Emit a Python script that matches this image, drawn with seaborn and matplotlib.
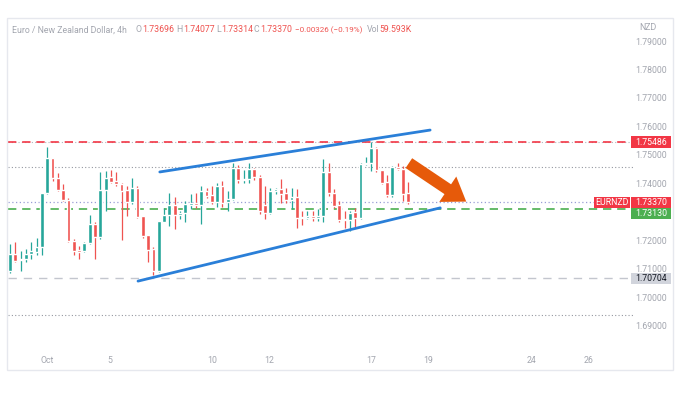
import matplotlib.pyplot as plt
import matplotlib.patches as mpatches
import numpy as np
import pandas as pd
import seaborn as sns

# EURNZD 4h candles
opens = [1.7098, 1.7157, 1.7134, 1.7139, 1.7157, 1.7162, 1.7182, 1.7371, 1.7493, 1.7424,
         1.7380, 1.7344, 1.7200, 1.7171, 1.7166, 1.7195, 1.7261, 1.7217, 1.7379, 1.7426,
         1.7412, 1.7402, 1.7379, 1.7340, 1.7388, 1.7290, 1.7222, 1.7174, 1.7098, 1.7270,
         1.7293, 1.7327, 1.7294, 1.7299, 1.7329, 1.7336, 1.7328, 1.7377, 1.7362, 1.7340,
         1.7394, 1.7339, 1.7348, 1.7458, 1.7415, 1.7420, 1.7455, 1.7427, 1.7327, 1.7299,
         1.7377, 1.7383, 1.7369, 1.7344, 1.7357, 1.7287, 1.7283, 1.7290, 1.7283, 1.7288,
         1.7443, 1.7369, 1.7327, 1.7278, 1.7276, 1.7304, 1.7281, 1.7472, 1.7475, 1.7528,
         1.7452, 1.7408, 1.7362, 1.7462, 1.7456, 1.73696]
highs = [1.7191, 1.7199, 1.7168, 1.7174, 1.7197, 1.7211, 1.7371, 1.7530, 1.7493, 1.7441,
         1.7400, 1.7354, 1.7209, 1.7185, 1.7199, 1.7292, 1.7267, 1.7444, 1.7446, 1.7452,
         1.7443, 1.7406, 1.7394, 1.7423, 1.7394, 1.7290, 1.7222, 1.7180, 1.7272, 1.7319,
         1.7369, 1.7357, 1.7307, 1.7342, 1.7365, 1.7371, 1.7394, 1.7388, 1.7394, 1.7406,
         1.7412, 1.7377, 1.7475, 1.7470, 1.7452, 1.7475, 1.7458, 1.7435, 1.7394, 1.7388,
         1.7388, 1.7420, 1.7388, 1.7386, 1.7383, 1.7307, 1.7307, 1.7307, 1.7313, 1.7489,
         1.7475, 1.7383, 1.7342, 1.7307, 1.7307, 1.7319, 1.7475, 1.7496, 1.7549, 1.7533,
         1.7452, 1.7435, 1.7464, 1.7475, 1.7464, 1.74077]
lows = [1.7090, 1.7127, 1.7098, 1.7127, 1.7139, 1.7151, 1.7151, 1.7365, 1.7412, 1.7377,
        1.7342, 1.7197, 1.7151, 1.7137, 1.7162, 1.7191, 1.7139, 1.7209, 1.7307, 1.7406,
        1.7394, 1.7206, 1.7290, 1.7330, 1.7284, 1.7214, 1.7127, 1.7081, 1.7092, 1.7267,
        1.7255, 1.7243, 1.7278, 1.7267, 1.7313, 1.7319, 1.7261, 1.7354, 1.7330, 1.7322,
        1.7322, 1.7307, 1.7345, 1.7406, 1.7406, 1.7404, 1.7417, 1.7296, 1.7278, 1.7296,
        1.7365, 1.7336, 1.7336, 1.7313, 1.7249, 1.7257, 1.7278, 1.7272, 1.7272, 1.7267,
        1.7359, 1.7319, 1.7267, 1.7249, 1.7238, 1.7249, 1.7278, 1.7470, 1.7446, 1.7443,
        1.7400, 1.7357, 1.7357, 1.7452, 1.7342, 1.73314]
closes = [1.7157, 1.7133, 1.7140, 1.7157, 1.7166, 1.7182, 1.7371, 1.7493, 1.7423, 1.7379,
          1.7344, 1.7200, 1.7168, 1.7164, 1.7195, 1.7261, 1.7217, 1.7379, 1.7424, 1.7408,
          1.7402, 1.7377, 1.7340, 1.7388, 1.7287, 1.7220, 1.7171, 1.7098, 1.7272, 1.7293,
          1.7327, 1.7293, 1.7301, 1.7330, 1.7336, 1.7329, 1.7377, 1.7359, 1.7340, 1.7394,
          1.7336, 1.7350, 1.7458, 1.7415, 1.7421, 1.7455, 1.7426, 1.7307, 1.7301, 1.7377,
          1.7383, 1.7368, 1.7346, 1.7357, 1.7284, 1.7283, 1.7290, 1.7283, 1.7290, 1.7443,
          1.7369, 1.7325, 1.7276, 1.7275, 1.7301, 1.7281, 1.7472, 1.7475, 1.7528, 1.7452,
          1.7406, 1.7362, 1.7462, 1.7456, 1.7365, 1.73370]

# x-axis day labels (bar position of each label)
day_labels = ['Oct', '5', '10', '12', '17', '19', '24', '26']
day_pos = [7.0, 18.8, 38.0, 48.8, 68.0, 78.8, 98.1, 108.9]

price_ticks = [1.69, 1.70, 1.71, 1.72, 1.73, 1.74, 1.75, 1.76, 1.77, 1.78, 1.79]

# drawn levels
resistance = 1.75486
support = 1.73130
last_price = 1.73370
low_level = 1.70704
dotted_levels = [1.7461, 1.6943]

# rising wedge lines: (bar, price) endpoints
upper_x, upper_y = [28.2, 79.1], [1.7444, 1.7591]
lower_x, lower_y = [24.1, 81.0], [1.7061, 1.7318]

# arrow (bar, price)
arrow_from = (75.1, 1.7475)
arrow_to = (85.9, 1.7340)

UP, DOWN = '#26a69a', '#ef5350'
GRID_TXT = '#a3a6af'

sns.set_style('white')
plt.rcParams['font.family'] = ['Roboto', 'DejaVu Sans']

W, H = 681, 394
fig = plt.figure(figsize=(W / 100, H / 100), dpi=100)
ax = fig.add_axes([8 / W, (H - 345) / H, 625 / W, 325 / H])

o, h, l, c = map(np.array, (opens, highs, lows, closes))
idx = np.arange(len(o))
colors = np.where(c >= o, UP, DOWN)

# reference levels
ax.axhline(dotted_levels[0], color='#9598a1', lw=0.8, ls=(0, (1, 2)), zorder=1)
ax.axhline(dotted_levels[1], color='#9598a1', lw=0.8, ls=(0, (1, 2)), zorder=1)
ax.axhline(last_price, color='#9a9ed6', lw=0.9, ls=(0, (1, 2)), zorder=1)
ax.axhline(resistance, color='#b2b5be', lw=0.8, ls=(0, (1, 2)), zorder=1)
ax.axhline(resistance, color='#f23645', lw=1.2, ls=(0, (5, 3.5)), zorder=2)
ax.axhline(support, color='#4caf50', lw=1.2, ls=(0, (5, 3.5)), zorder=2)
ax.axhline(low_level, color='#c3c6ce', lw=1.0, ls=(0, (6, 5)), zorder=1)

# candles
ax.vlines(idx, l, h, colors=colors, lw=0.9, zorder=3)
body = np.maximum(np.abs(c - o), 0.00025)
ax.bar(idx, body, bottom=np.minimum(o, c), width=0.72, color=colors, zorder=4)

# wedge
wedge = pd.DataFrame({
    'bar': upper_x + lower_x,
    'price': upper_y + lower_y,
    'line': ['upper', 'upper', 'lower', 'lower'],
})
sns.lineplot(data=wedge, x='bar', y='price', units='line', estimator=None,
             color='#2a7fd8', lw=2.0, ax=ax, zorder=5)

ax.annotate('', xy=arrow_to, xytext=arrow_from,
            arrowprops=dict(facecolor='#e65a0a', edgecolor='none', width=8.5,
                            headwidth=22, headlength=16, shrink=0),
            zorder=6)

ax.set_xlim(-0.38, 117.3)
ax.set_ylim(1.68368, 1.79772)
ax.set_xticks(day_pos)
ax.set_xticklabels(day_labels)
ax.tick_params(axis='x', length=0, pad=8, labelsize=6.3, labelcolor=GRID_TXT)
ax.set_yticks([])
ax.set_xlabel('')
ax.set_ylabel('')
for s in ax.spines.values():
    s.set_visible(False)

# right price scale
yt = ax.get_yaxis_transform()
for p in price_ticks:
    ax.text(1.029, p, f'{p:.5f}', transform=yt, ha='center', va='center',
            fontsize=6.3, color=GRID_TXT, clip_on=False)


def price_tag(y, text, fc, tc, x0=0.9968, w=0.064, shift=0.0):
    # shift moves the tag (in price units) when it would collide with another
    yc = y + shift
    ax.add_patch(mpatches.Rectangle((x0, yc - 0.002), w, 0.004, transform=yt,
                                    fc=fc, ec='none', clip_on=False, zorder=7))
    ax.text(x0 + w / 2, yc, text, transform=yt, ha='center', va='center',
            fontsize=6.3, color=tc, clip_on=False, zorder=8)


price_tag(resistance, f'{resistance:.5f}', '#f23645', 'white')
price_tag(last_price, f'{last_price:.5f}', '#f23645', 'white')
price_tag(last_price, 'EURNZD', '#f23645', 'white', x0=0.9376, w=0.0576)
price_tag(support, f'{support:.5f}', '#4caf50', 'white', shift=-0.0015)
price_tag(low_level, f'{low_level:.5f}', '#d1d4dc', '#131722')

fig.text(639 / W, 1 - 28 / H, 'NZD', fontsize=6.3, color=GRID_TXT, va='center')

# header line
hy = 1 - 30 / H
head = [(12, 'Euro / New Zealand Dollar, 4h', GRID_TXT, 6.3),
        (136, 'O', GRID_TXT, 6.3), (142, '1.73696', DOWN, 6.3),
        (176, 'H', GRID_TXT, 6.3), (183, '1.74077', DOWN, 6.3),
        (216, 'L', GRID_TXT, 6.3), (221, '1.73314', DOWN, 6.3),
        (254, 'C', GRID_TXT, 6.3), (260, '1.73370', DOWN, 6.3),
        (295, '\u22120.00326 (\u22120.19%)', DOWN, 5.8),
        (367, 'Vol', GRID_TXT, 6.3), (379, '59.593K', DOWN, 6.3)]
for x, t, col, fs in head:
    fig.text(x / W, hy, t, fontsize=fs, color=col, va='center')

# outer frame
fig.patches.append(mpatches.Rectangle((7 / W, 1 - 370 / H), 666 / W, 352 / H,
                                      transform=fig.transFigure, fill=False,
                                      ec='#e6e8ee', lw=1.0))

fig.savefig('out.png', dpi=100, facecolor='white')
